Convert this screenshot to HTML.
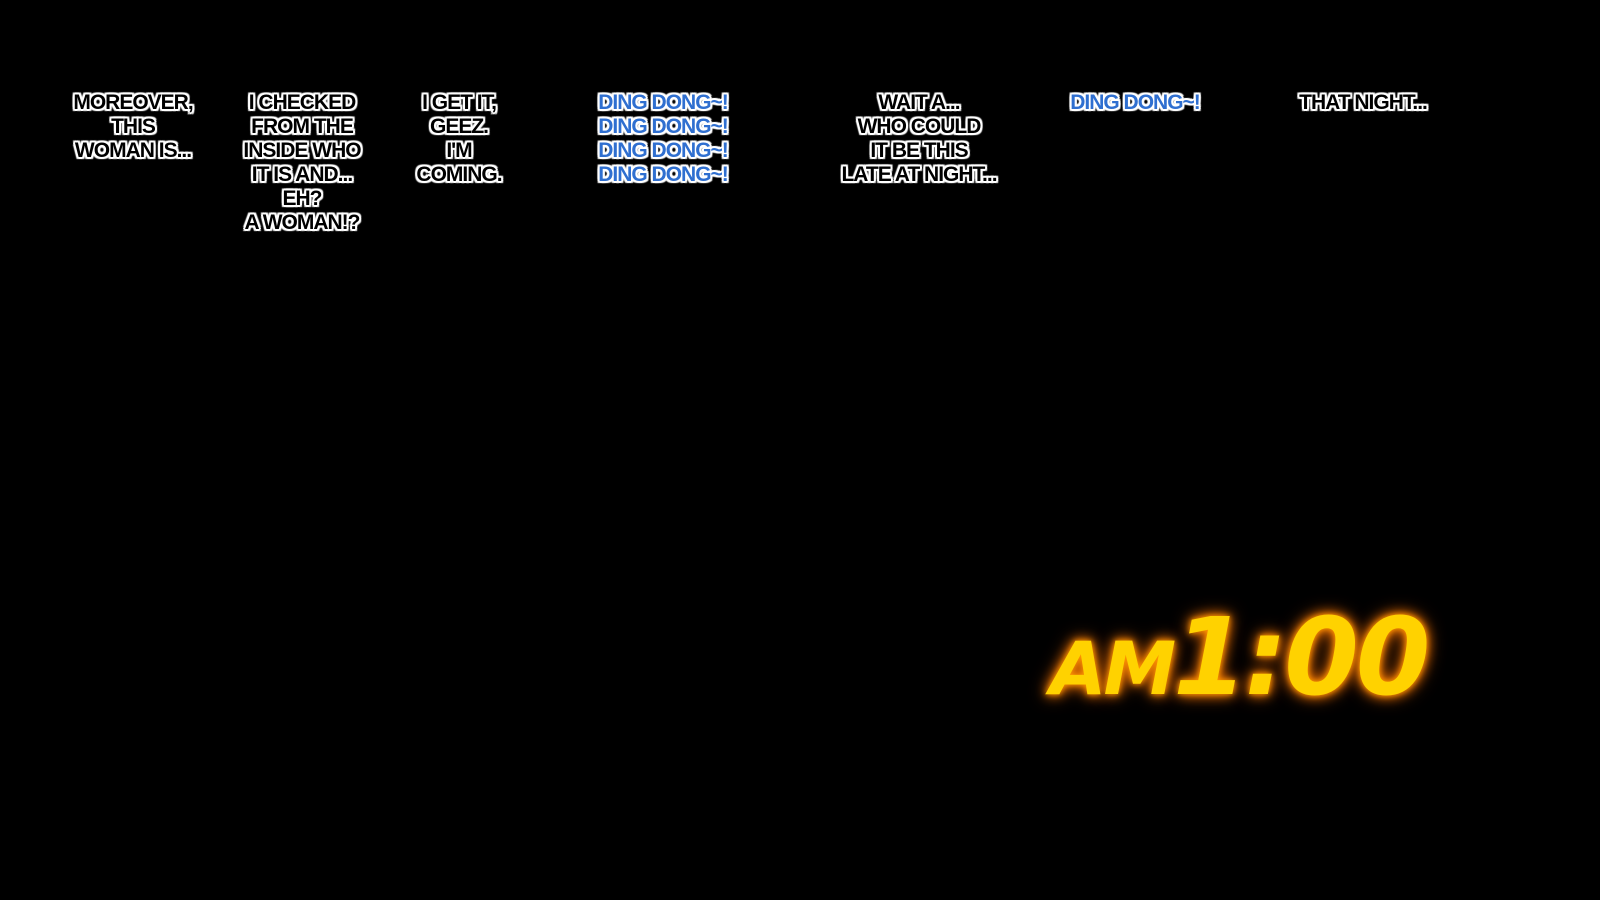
<!DOCTYPE html>
<html><head><style>
html,body{margin:0;padding:0;background:#000;width:1600px;height:900px;overflow:hidden;position:relative}
.t{position:absolute;top:91px;transform:translateX(-50%);text-align:center;white-space:nowrap;
font-family:"Liberation Sans",sans-serif;font-weight:bold;font-size:21px;line-height:24px;letter-spacing:-1px;
color:#000;text-shadow:0 0 2px #fff,1px 1px 0 #fff,-1px -1px 0 #fff,1px -1px 0 #fff,-1px 1px 0 #fff,2px 0 0 #fff,-2px 0 0 #fff,0 2px 0 #fff,0 -2px 0 #fff,2px 2px 1px #fff,-2px -2px 1px #fff,2px -2px 1px #fff,-2px 2px 1px #fff}
.b{color:#2f6fd0}
.clk{position:absolute;left:1050px;top:605px;font-family:"DejaVu Sans","Liberation Sans",sans-serif;font-weight:bold;font-style:italic;color:#ffd200;
text-shadow:0 0 6px #ff9a00,0 0 12px #ff8000,0 0 18px #c05000;white-space:nowrap;line-height:1}
.am{font-size:73px;letter-spacing:-3px}
.big{font-size:107px;letter-spacing:-3px}
</style></head><body>
<div class="t" style="left:133px">MOREOVER,<br>THIS<br>WOMAN IS...</div>
<div class="t" style="left:302px">I CHECKED<br>FROM THE<br>INSIDE WHO<br>IT IS AND...<br>EH?<br>A WOMAN!?</div>
<div class="t" style="left:459px">I GET IT,<br>GEEZ.<br>I'M<br>COMING.</div>
<div class="t b" style="left:663px">DING DONG~!<br>DING DONG~!<br>DING DONG~!<br>DING DONG~!</div>
<div class="t" style="left:919px">WAIT A...<br>WHO COULD<br>IT BE THIS<br>LATE AT NIGHT...</div>
<div class="t b" style="left:1135px">DING DONG~!</div>
<div class="t" style="left:1363px">THAT NIGHT...</div>
<div class="clk"><span class="am">AM</span><span class="big">1:00</span></div>
</body></html>
